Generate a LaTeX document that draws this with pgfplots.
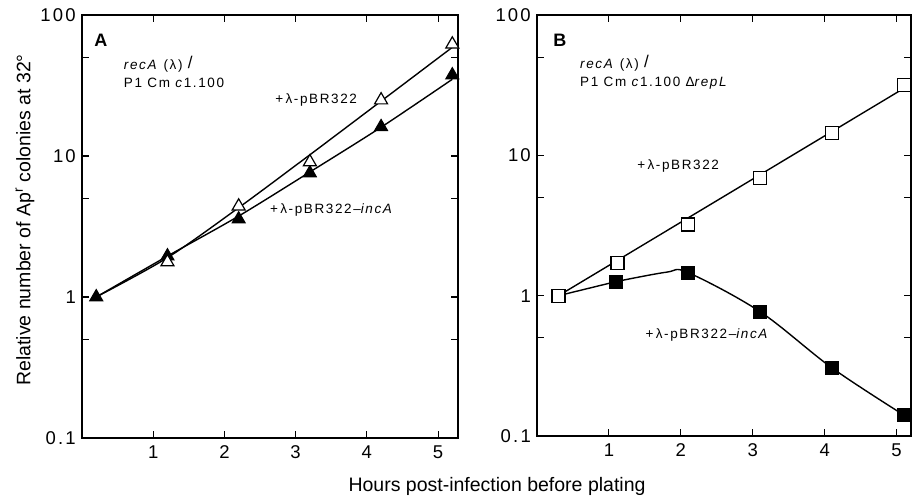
\documentclass[border=0pt]{standalone}
\usepackage{pgfplots}
\pgfplotsset{compat=1.18}
\usepackage{fontspec}
\setmainfont{Liberation Sans}[LetterSpace=12]
\newfontfamily\plainfont{Liberation Sans}
\begin{document}
\begin{tikzpicture}
\path[use as bounding box] (0,0) rectangle (912pt,495pt);
% Panel A
\begin{axis}[at={(82pt,57pt)}, anchor=south west,
  scale only axis, width=376pt, height=423pt, xmin=0, xmax=5.28,
  ymode=log, ymin=0.1, ymax=100,
  ytick={0.1,1,10,100}, minor ytick={0.5,5,50}, xtick={1,2,3,4,5},
  log ticks with fixed point,
  /pgf/number format/assume math mode=true,
  tick align=inside, major tick length=7pt, minor tick length=7pt,
  axis line style={line width=1.1pt},
  every tick/.style={black, line width=1.1pt},
  tick label style={font=\fontsize{18.5}{20}\selectfont},
  yticklabel style={inner sep=1pt, xshift=-5pt},
  xticklabel style={yshift=-4pt},
  clip=false]
\addplot[black, line width=1.4pt, smooth, tension=0.5] coordinates {
 (0.2,1) (1.2,1.9) (2.2,4.3) (3.2,10.2) (4.2,24.5) (5.2,59)};
\addplot[black, line width=1.4pt, smooth, tension=0.5] coordinates {
 (0.2,1) (1.2,1.95) (2.2,3.75) (3.2,7.7) (4.2,16) (5.2,35)};
\addplot[only marks, mark=triangle*, mark size=7.5pt, mark options={fill=black, draw=black, line width=1pt}] coordinates {
 (0.2,1) (1.2,1.95) (2.2,3.57) (3.2,7.57) (4.2,16.1) (5.2,37.5)};
\addplot[only marks, mark=triangle*, mark size=7.5pt, mark options={fill=white, draw=black, line width=1.2pt}] coordinates {
 (1.2,1.77) (2.2,4.4) (3.2,9.06) (4.2,24.9) (5.2,62)};
\node[font=\fontsize{18}{20}\selectfont\bfseries] at (rel axis cs:0.05,0.94) {A};
\node[anchor=base west, align=left, font=\fontsize{13.5}{18}\selectfont, inner sep=0pt] at (rel axis cs:0.111,0.829) {\textit{recA} (λ) \raisebox{1pt}{\fontsize{17}{17}\selectfont/}\\P1 Cm \textit{c}1.100};
\node[anchor=west, font=\fontsize{13.5}{16}\selectfont, inner sep=0pt] at (rel axis cs:0.514,0.799) {+\,λ-pBR322};
\node[anchor=west, font=\fontsize{13.5}{16}\selectfont, inner sep=0pt] at (rel axis cs:0.5,0.539) {+\,λ-pBR322–\textit{incA}};
\end{axis}
% Panel B
\begin{axis}[at={(537pt,59pt)}, anchor=south west,
  scale only axis, width=374pt, height=421pt, xmin=0, xmax=5.2,
  ymode=log, ymin=0.1, ymax=100,
  ytick={0.1,1,10,100}, minor ytick={0.5,5,50}, xtick={1,2,3,4,5},
  log ticks with fixed point,
  /pgf/number format/assume math mode=true,
  tick align=inside, major tick length=7pt, minor tick length=7pt,
  axis line style={line width=1.1pt},
  every tick/.style={black, line width=1.1pt},
  tick label style={font=\fontsize{18.5}{20}\selectfont},
  yticklabel style={inner sep=1pt, xshift=-5pt},
  xticklabel style={yshift=-4pt},
  clip=false]
\addplot[black, line width=1.4pt] coordinates {
 (0.3,1) (5.1,30)};
\addplot[black, line width=1.4pt] coordinates {
 (0.3,1) (1.1,1.26)};
\addplot[black, line width=1.4pt, smooth, tension=0.55] coordinates {
 (1.1,1.26) (1.8,1.47) (2.1,1.46) (3.1,0.77) (4.1,0.306) (5.1,0.141)};
\addplot[only marks, mark=square*, mark size=6.5pt, mark options={fill=white, draw=black, line width=1.2pt}] coordinates {
 (0.3,1) (1.12,1.72) (2.1,3.21) (3.1,6.85) (4.1,14.4) (5.1,31.6)};
\addplot[only marks, mark=square*, mark size=6.5pt, mark options={fill=black, draw=black}] coordinates {
 (1.1,1.26) (2.1,1.46) (3.1,0.77) (4.1,0.306) (5.1,0.141)};
\node[font=\fontsize{18}{20}\selectfont\bfseries] at (rel axis cs:0.061,0.94) {B};
\node[anchor=base west, align=left, font=\fontsize{13.5}{18}\selectfont, inner sep=0pt] at (rel axis cs:0.115,0.829) {\textit{recA} (λ) \raisebox{1pt}{\fontsize{17}{17}\selectfont/}\\P1 Cm \textit{c}1.100 Δ\textit{repL}};
\node[anchor=west, font=\fontsize{13.5}{16}\selectfont, inner sep=0pt] at (rel axis cs:0.268,0.641) {+\,λ-pBR322};
\node[anchor=west, font=\fontsize{13.5}{16}\selectfont, inner sep=0pt] at (rel axis cs:0.29,0.240) {+\,λ-pBR322–\textit{incA}};
\end{axis}
\node[rotate=90, font=\plainfont\fontsize{19.5}{22}\selectfont] at (25pt,275pt) {Relative number of Ap\textsuperscript{r} colonies at 32°};
\node[anchor=base, font=\plainfont\fontsize{19.5}{22}\selectfont] at (497pt,4pt) {Hours post-infection before plating};
\end{tikzpicture}
\end{document}
